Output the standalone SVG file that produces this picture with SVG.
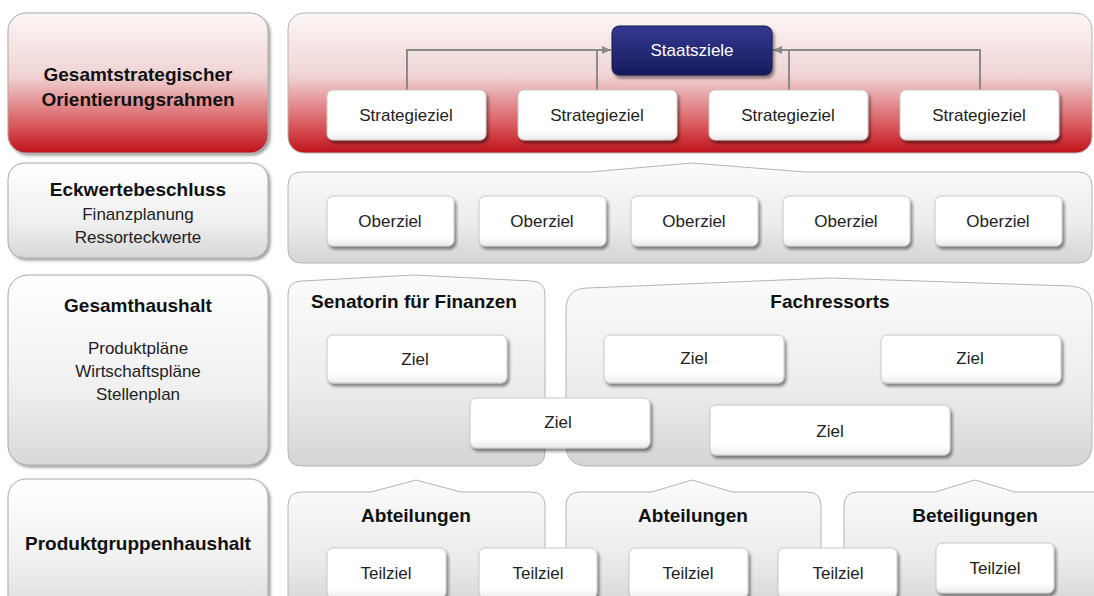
<svg xmlns="http://www.w3.org/2000/svg" width="1094" height="596" viewBox="0 0 1094 596">
<defs>
<linearGradient id="gRed" x1="0" y1="0" x2="0" y2="1">
<stop offset="0" stop-color="#fdf6f6"/>
<stop offset="0.45" stop-color="#f0d4d4"/>
<stop offset="0.8" stop-color="#d9595d"/>
<stop offset="1" stop-color="#c0121b"/>
</linearGradient>
<linearGradient id="gGray" x1="0" y1="0" x2="0" y2="1">
<stop offset="0" stop-color="#fbfbfb"/>
<stop offset="0.6" stop-color="#ececec"/>
<stop offset="1" stop-color="#d4d4d4"/>
</linearGradient>
<linearGradient id="gLabel" x1="0" y1="0" x2="0" y2="1">
<stop offset="0" stop-color="#ffffff"/>
<stop offset="0.6" stop-color="#f0f0f0"/>
<stop offset="1" stop-color="#d8d8d8"/>
</linearGradient>
<linearGradient id="gNavy" x1="0" y1="0" x2="0" y2="1">
<stop offset="0" stop-color="#34398f"/>
<stop offset="1" stop-color="#171b5e"/>
</linearGradient>
<linearGradient id="gWhite" x1="0" y1="0" x2="0" y2="1">
<stop offset="0" stop-color="#ffffff"/>
<stop offset="0.8" stop-color="#ffffff"/>
<stop offset="1" stop-color="#ececec"/>
</linearGradient>
<filter id="sh" x="-10%" y="-10%" width="125%" height="140%">
<feDropShadow dx="2" dy="3" stdDeviation="1.8" flood-color="#000" flood-opacity="0.45"/>
</filter>
<filter id="shL" x="-5%" y="-5%" width="115%" height="115%">
<feDropShadow dx="2" dy="2" stdDeviation="1.5" flood-color="#000" flood-opacity="0.4"/>
</filter>
<marker id="arr" markerWidth="10" markerHeight="10" refX="9" refY="5" orient="auto" markerUnits="userSpaceOnUse">
<path d="M0,1 L9,5 L0,9 Z" fill="#8a8a8a"/>
</marker>
<style>
text{font-family:"Liberation Sans",Arial,sans-serif;fill:#111;text-anchor:middle}
.b{font-weight:bold;font-size:19px}
.r{font-size:17px;fill:#222}
.lbl{fill:url(#gLabel);stroke:#a8a8a8;stroke-width:1;filter:url(#shL)}
.lblr{fill:url(#gRed);stroke:#a8a8a8;stroke-width:1;filter:url(#shL)}
.cont{fill:url(#gGray);stroke:#b4b4b4;stroke-width:1}
.contr{fill:url(#gRed);stroke:#b4b4b4;stroke-width:1}
.box{fill:url(#gWhite);stroke:#c8c8c8;stroke-width:1;filter:url(#sh)}
.navy{fill:url(#gNavy);stroke:#14174d;stroke-width:1;filter:url(#sh)}
.ln{fill:none;stroke:#8a8a8a;stroke-width:2}
</style>
</defs>
<rect width="1094" height="596" fill="#ffffff"/>

<!-- Row 1 -->
<g id="label-gesamtstrategisch">
<rect class="lblr" x="8" y="13" width="260" height="140" rx="18"/>
<text class="b" x="138" y="81">Gesamtstrategischer</text>
<text class="b" x="138" y="106">Orientierungsrahmen</text>
</g>
<g id="container-strategie">
<rect class="contr" x="288" y="13" width="804" height="140" rx="16"/>
</g>

<!-- Row 2 -->
<g id="label-eckwerte">
<rect class="lbl" x="8" y="163" width="260" height="95" rx="16"/>
<text class="b" x="138" y="196">Eckwertebeschluss</text>
<text class="r" x="138" y="220">Finanzplanung</text>
<text class="r" x="138" y="243">Ressorteckwerte</text>
</g>
<g id="container-oberziele">
<path class="cont" d="M302,172 L590,172 L692,163 L805,172 L1078,172 Q1092,172 1092,186 L1092,249 Q1092,263 1078,263 L302,263 Q288,263 288,249 L288,186 Q288,172 302,172 Z"/>
</g>

<!-- Row 3 -->
<g id="label-gesamthaushalt">
<rect class="lbl" x="8" y="275" width="260" height="190" rx="20"/>
<text class="b" x="138" y="312">Gesamthaushalt</text>
<text class="r" x="138" y="354">Produktpläne</text>
<text class="r" x="138" y="377">Wirtschaftspläne</text>
<text class="r" x="138" y="400">Stellenplan</text>
</g>
<g id="container-senatorin">
<path class="cont" d="M302,281 L414,275 L531,281 Q545,281 545,295 L545,452 Q545,466 531,466 L302,466 Q288,466 288,452 L288,295 Q288,281 302,281 Z"/>
<text class="b" x="414" y="308">Senatorin für Finanzen</text>
</g>
<g id="container-fachressorts">
<path class="cont" d="M588,288 L830,278 L1070,286 Q1092,287 1092,305 L1092,444 Q1092,466 1070,466 L588,466 Q566,466 566,444 L566,310 Q566,288 588,288 Z"/>
<text class="b" x="830" y="308">Fachressorts</text>
</g>

<!-- Row 4 -->
<g id="label-produktgruppen">
<rect class="lbl" x="8" y="479" width="260" height="140" rx="18"/>
<text class="b" x="138" y="550">Produktgruppenhaushalt</text>
</g>
<g id="container-abteilungen-1">
<path class="cont" d="M302,492 L371,492 L416,480 L461,492 L531,492 Q545,492 545,506 L545,610 L288,610 L288,506 Q288,492 302,492 Z"/>
<text class="b" x="416" y="522">Abteilungen</text>
</g>
<g id="container-abteilungen-2">
<path class="cont" d="M580,492 L652,492 L692,480 L732,492 L807,492 Q821,492 821,506 L821,610 L566,610 L566,506 Q566,492 580,492 Z"/>
<text class="b" x="693" y="522">Abteilungen</text>
</g>
<g id="container-beteiligungen">
<path class="cont" d="M858,492 L935,492 L975,480 L1015,492 L1110,492 L1110,610 L844,610 L844,506 Q844,492 858,492 Z"/>
<text class="b" x="975" y="522">Beteiligungen</text>
</g>

<!-- Connectors -->
<g id="connectors">
<path class="ln" d="M407,90 V50 H611" marker-end="url(#arr)"/>
<path class="ln" d="M597,90 V50"/>
<path class="ln" d="M980,90 V50 H773" marker-end="url(#arr)"/>
<path class="ln" d="M789,90 V50"/>
</g>

<!-- Row 1 nodes -->
<g id="staatsziele">
<rect class="navy" x="612" y="26" width="160" height="49" rx="7"/>
<text class="r" x="692" y="56" style="fill:#ffffff">Staatsziele</text>
</g>
<g id="strategieziel-1"><rect class="box" x="327" y="90" width="159" height="50" rx="6"/><text class="r" x="406" y="121">Strategieziel</text></g>
<g id="strategieziel-2"><rect class="box" x="518" y="90" width="159" height="50" rx="6"/><text class="r" x="597" y="121">Strategieziel</text></g>
<g id="strategieziel-3"><rect class="box" x="709" y="90" width="159" height="50" rx="6"/><text class="r" x="788" y="121">Strategieziel</text></g>
<g id="strategieziel-4"><rect class="box" x="900" y="90" width="159" height="50" rx="6"/><text class="r" x="979" y="121">Strategieziel</text></g>

<!-- Row 2 nodes -->
<g id="oberziel-1"><rect class="box" x="327" y="196" width="127" height="50" rx="6"/><text class="r" x="390" y="227">Oberziel</text></g>
<g id="oberziel-2"><rect class="box" x="479" y="196" width="127" height="50" rx="6"/><text class="r" x="542" y="227">Oberziel</text></g>
<g id="oberziel-3"><rect class="box" x="631" y="196" width="127" height="50" rx="6"/><text class="r" x="694" y="227">Oberziel</text></g>
<g id="oberziel-4"><rect class="box" x="783" y="196" width="127" height="50" rx="6"/><text class="r" x="846" y="227">Oberziel</text></g>
<g id="oberziel-5"><rect class="box" x="935" y="196" width="127" height="50" rx="6"/><text class="r" x="998" y="227">Oberziel</text></g>

<!-- Row 3 nodes -->
<g id="ziel-senatorin"><rect class="box" x="327" y="335" width="180" height="48" rx="6"/><text class="r" x="415" y="365">Ziel</text></g>
<g id="ziel-bridge"><rect class="box" x="470" y="398" width="180" height="50" rx="6"/><text class="r" x="558" y="428">Ziel</text></g>
<g id="ziel-fach-1"><rect class="box" x="604" y="335" width="180" height="48" rx="6"/><text class="r" x="694" y="364">Ziel</text></g>
<g id="ziel-fach-2"><rect class="box" x="881" y="335" width="180" height="48" rx="6"/><text class="r" x="970" y="364">Ziel</text></g>
<g id="ziel-fach-3"><rect class="box" x="710" y="405" width="240" height="50" rx="6"/><text class="r" x="830" y="437">Ziel</text></g>

<!-- Row 4 nodes -->
<g id="teilziel-1"><rect class="box" x="327" y="548" width="119" height="50" rx="6"/><text class="r" x="386" y="579">Teilziel</text></g>
<g id="teilziel-2"><rect class="box" x="479" y="548" width="118" height="50" rx="6"/><text class="r" x="538" y="579">Teilziel</text></g>
<g id="teilziel-3"><rect class="box" x="629" y="548" width="119" height="50" rx="6"/><text class="r" x="688" y="579">Teilziel</text></g>
<g id="teilziel-4"><rect class="box" x="778" y="548" width="119" height="50" rx="6"/><text class="r" x="838" y="579">Teilziel</text></g>
<g id="teilziel-5"><rect class="box" x="936" y="543" width="118" height="50" rx="6"/><text class="r" x="995" y="574">Teilziel</text></g>
</svg>
